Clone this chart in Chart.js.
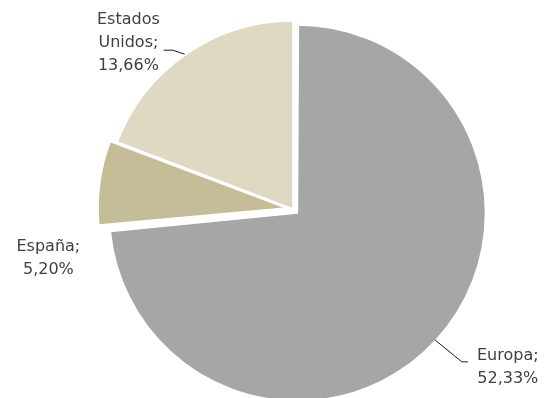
<!DOCTYPE html>
<html>
<head>
<meta charset="utf-8">
<script src="https://cdn.jsdelivr.net/npm/chart.js@4.4.1/dist/chart.umd.min.js"></script>
<style>
  html, body { margin: 0; padding: 0; background: #fff; }
  #wrap { width: 547px; height: 398px; position: relative; }
</style>
</head>
<body>
<div id="wrap"><canvas id="pie"></canvas></div>
<script>
  // Datos del gráfico
  const categories = ['Europa', 'España', 'Estados Unidos'];
  const shares = [52.33, 5.20, 13.66];
  const labelLines = [['Europa;', '52,33%'], ['España;', '5,20%'], ['Estados', 'Unidos;', '13,66%']];

  const COLORS = ['#a6a6a6', '#c4bd97', '#ddd9c3'];
  const EXPLODE = [24, 28, 0];   // Chart.js desplaza offset/4 px
  const TXT = '#404040';
  const FONT = "16px 'DejaVu Sans', sans-serif";
  const LINE_H = 23;

  // etiquetas: ángulo (grados, lienzo) y distancia desde el vértice del sector
  const labelPos = [
    { ang: 36.3, dist: 261, leader: [{ ang: 42.7, dist: 187 }, { dx: 27, dy: 22 }, { dx: 6, dy: 0 }] },
    { ang: 168.0, dist: 243, leader: null },
    { ang: 225.3, dist: 234, leader: [{ ang: 235, dist: 189 }, { dx: -12, dy: -4 }, { dx: -9, dy: 0 }] },
  ];

  // Chart.js agranda el radio de los sectores separados; se compensa aquí
  const keepRadius = {
    id: 'keepRadius',
    afterDatasetUpdate(chart, args) {
      args.meta.data.forEach((arc) => {
        const off = (arc.options.offset || 0) / 4;
        const fix = 1 - Math.sin(Math.min(Math.PI, arc.circumference || 0));
        arc.outerRadius -= off * fix;
      });
    }
  };

  const labelPlugin = {
    id: 'labels',
    afterDatasetsDraw(chart) {
      const ctx = chart.ctx;
      const arcs = chart.getDatasetMeta(0).data;
      ctx.save();
      ctx.font = FONT;
      ctx.fillStyle = TXT;
      ctx.strokeStyle = '#1a1a1a';
      ctx.lineWidth = 1;
      ctx.textAlign = 'center';
      ctx.textBaseline = 'middle';
      arcs.forEach((arc, i) => {
        const p = labelPos[i];
        const off = (arc.options.offset || 0) / 4;
        const mid = (arc.startAngle + arc.endAngle) / 2;
        const cx = arc.x + Math.cos(mid) * off;
        const cy = arc.y + Math.sin(mid) * off;
        const a = p.ang * Math.PI / 180;
        const lx = cx + Math.cos(a) * p.dist;
        const ly = cy + Math.sin(a) * p.dist;
        const lines = labelLines[i];
        const y0 = ly - (lines.length - 1) * LINE_H / 2;
        lines.forEach((t, k) => ctx.fillText(t, lx, y0 + k * LINE_H));
        if (p.leader) {
          const s = p.leader[0];
          let x = cx + Math.cos(s.ang * Math.PI / 180) * s.dist;
          let y = cy + Math.sin(s.ang * Math.PI / 180) * s.dist;
          ctx.beginPath();
          ctx.moveTo(x, y);
          for (let k = 1; k < p.leader.length; k++) {
            x += p.leader[k].dx; y += p.leader[k].dy;
            ctx.lineTo(x, y);
          }
          ctx.stroke();
        }
      });
      ctx.restore();
    }
  };

  new Chart(document.getElementById('pie'), {
    type: 'pie',
    data: {
      labels: categories,
      datasets: [{
        data: shares,
        backgroundColor: COLORS,
        borderColor: '#ffffff',
        borderWidth: 1.5,
        offset: EXPLODE,
        hoverOffset: EXPLODE,
        clip: false,
      }],
    },
    options: {
      responsive: true, maintainAspectRatio: false,
      animation: false,
      events: [],
      radius: 188,
      layout: { padding: { left: 39, right: 0, top: 20, bottom: 0 } },
      plugins: { legend: { display: false }, tooltip: { enabled: false } },
    },
    plugins: [keepRadius, labelPlugin],
  });
</script>
</body>
</html>
